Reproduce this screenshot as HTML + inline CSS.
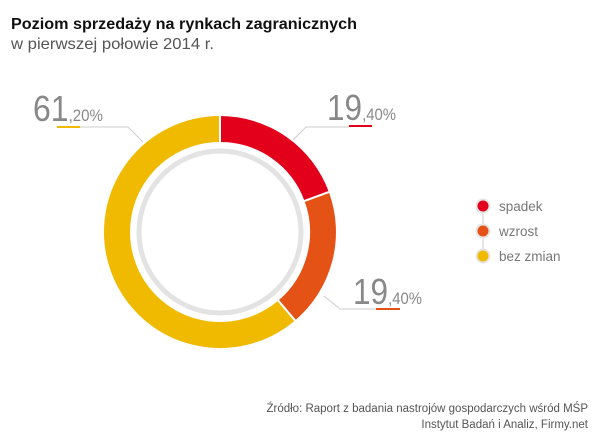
<!DOCTYPE html>
<html><head><meta charset="utf-8"><style>
body{margin:0;background:#fff;}
svg{display:block;font-family:"Liberation Sans",sans-serif;}
</style></head><body>
<svg width="600" height="445" viewBox="0 0 600 445">
<text x="11" y="29" font-size="16" font-weight="bold" fill="#111" textLength="346" lengthAdjust="spacingAndGlyphs">Poziom sprzedaży na rynkach zagranicznych</text>
<text x="11" y="49" font-size="16" fill="#555" textLength="203" lengthAdjust="spacingAndGlyphs">w pierwszej połowie 2014 r.</text>
<circle cx="220" cy="232" r="81" fill="none" stroke="#e3e3e3" stroke-width="5"/>
<g stroke="#fff" stroke-width="2">
<path d="M220 115 A117 117 0 0 1 329.8 191.7 L303.6 201.3 A89 89 0 0 0 220 143 Z" fill="#e2001a"/>
<path d="M329.8 191.7 A117 117 0 0 1 295.7 321.2 L277.6 299.9 A89 89 0 0 0 303.6 201.3 Z" fill="#e55215"/>
<path d="M295.7 321.2 A117 117 0 1 1 220 115 L220 143 A89 89 0 1 0 277.6 299.9 Z" fill="#efba00"/>
</g>
<g fill="none" stroke="#ccc" stroke-width="1">
<polyline points="80,127 128,127 143,142"/>
<polyline points="349,127 306,127 293,140"/>
<polyline points="376,309 340,309 324,296"/>
</g>
<line x1="57" y1="127" x2="80" y2="127" stroke="#efba00" stroke-width="2"/>
<line x1="349" y1="126" x2="372" y2="126" stroke="#e2001a" stroke-width="2"/>
<line x1="376" y1="309" x2="400" y2="309" stroke="#e55215" stroke-width="2"/>
<g fill="#888">
<text x="33" y="121" font-size="36" textLength="70" lengthAdjust="spacingAndGlyphs">61<tspan font-size="17">,20%</tspan></text>
<text x="327" y="120" font-size="36" textLength="69" lengthAdjust="spacingAndGlyphs">19<tspan font-size="17">,40%</tspan></text>
<text x="353" y="304" font-size="36" textLength="69" lengthAdjust="spacingAndGlyphs">19<tspan font-size="17">,40%</tspan></text>
</g>
<line x1="483" y1="205" x2="483" y2="256" stroke="#ddd" stroke-width="1.5"/>
<g stroke="#e6e6e6" stroke-width="2">
<circle cx="483" cy="206" r="6.5" fill="#e2001a"/>
<circle cx="483" cy="231" r="6.5" fill="#e55215"/>
<circle cx="483" cy="256" r="6.5" fill="#efba00"/>
</g>
<g font-size="13.5" fill="#777">
<text x="499" y="211">spadek</text>
<text x="499" y="236">wzrost</text>
<text x="499" y="261">bez zmian</text>
</g>
<g font-size="11.5" fill="#555" text-anchor="end">
<text x="588" y="412">Źródło: Raport z badania nastrojów gospodarczych wśród MŚP</text>
<text x="588" y="428">Instytut Badań i Analiz, Firmy.net</text>
</g>
</svg>
</body></html>
